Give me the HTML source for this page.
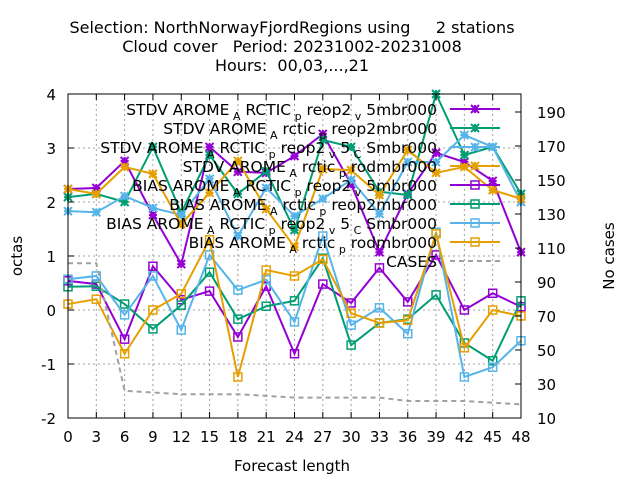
<!DOCTYPE html>
<html><head><meta charset="utf-8"><style>
body{margin:0;background:#fff}
svg{display:block;font-family:"DejaVu Sans","Liberation Sans",sans-serif}
text{white-space:pre}
</style></head><body>
<svg id="c" width="640" height="480" viewBox="0 0 640 480">
<g id="grid"></g>
<g id="series"></g>
<g id="axes"></g>
<g id="legend"></g>
<g font-size="16" text-anchor="middle" fill="#000">
<text x="292" y="33" xml:space="preserve">Selection: NorthNorwayFjordRegions using     2 stations</text>
<text x="292" y="52" xml:space="preserve">Cloud cover   Period: 20231002-20231008</text>
<text x="292" y="71" xml:space="preserve">Hours:  00,03,...,21</text>
</g>
<text x="292" y="471" font-size="15" text-anchor="middle">Forecast length</text>
<text transform="translate(22,256) rotate(-90)" font-size="15" text-anchor="middle">octas</text>
<text transform="translate(614,256) rotate(-90)" font-size="15" text-anchor="middle">No cases</text>
</svg>
<script>
const hours=[0,3,6,9,12,15,18,21,24,27,30,33,36,39,42,45,48];
const stdvArcticV5=[2.24,2.26,2.76,1.76,0.85,3.02,2.56,2.54,2.85,3.26,2.33,1.07,2.15,2.91,2.74,2.39,1.07];
const stdvArcticMbr=[2.09,2.15,2.0,3.02,1.8,2.87,2.15,2.57,1.48,3.15,3.02,2.19,2.13,4.0,2.87,3.02,2.15];
const stdvArcticV5C=[1.83,1.81,2.11,1.89,1.76,2.43,1.37,2.26,1.74,2.06,2.41,1.78,2.74,2.74,3.24,3.02,2.0];
const stdvArcticRod=[2.24,2.15,2.65,2.52,1.59,2.17,2.76,1.87,1.17,2.61,2.59,2.13,2.96,2.54,2.65,2.22,2.06];
const biasArcticV5=[0.54,0.48,-0.54,0.81,0.19,0.35,-0.5,0.44,-0.81,0.48,0.13,0.78,0.15,1.02,0.0,0.31,0.06];
const biasArcticMbr=[0.43,0.44,0.11,-0.35,0.09,0.7,-0.17,0.07,0.17,0.96,-0.65,-0.24,-0.17,0.28,-0.61,-0.94,0.17];
const biasArcticV5C=[0.57,0.63,-0.09,0.63,-0.37,1.02,0.37,0.56,-0.22,1.37,-0.28,0.04,-0.44,1.44,-1.24,-1.06,-0.57];
const biasArcticRod=[0.11,0.2,-0.81,0.0,0.3,1.3,-1.24,0.74,0.63,0.94,-0.06,-0.24,-0.19,1.41,-0.7,0.0,-0.11];
const cases=[101,101,26,25,24,24,24,23,22,22,22,22,20,20,20,19,18];
const yTicks=[-2,-1,0,1,2,3,4];
const y2Ticks=[10,30,50,70,90,110,130,150,170,190];
const xTicks=[0,3,6,9,12,15,18,21,24,27,30,33,36,39,42,45,48];

const L=68,R=521,T=94,B=418;
const X=h=>L+(h-0)/(48-0)*(R-L);
const Y=v=>B-(v+2)/6*(B-T);
const Y2=c=>B-(c-10)*1.7;
const NS="http://www.w3.org/2000/svg";
function mk(tag,attrs,parent){const e=document.createElementNS(NS,tag);for(const k in attrs)e.setAttribute(k,attrs[k]);parent.appendChild(e);return e;}
const grid=document.getElementById('grid'),axes=document.getElementById('axes'),ser=document.getElementById('series'),leg=document.getElementById('legend');

xTicks.forEach(h=>{
  if(h>0&&h<48){const g=mk('line',{x1:X(h),x2:X(h),y1:T,y2:B,stroke:'#a0a0a0','stroke-dasharray':'2,3','stroke-width':1},grid);
  
  }
  const t=mk('text',{x:X(h),y:B+24,'font-size':15,'text-anchor':'middle'},axes);t.textContent=h;
  
  
  mk('line',{x1:X(h),x2:X(h),y1:B,y2:B-6,stroke:'#000'},axes);
  mk('line',{x1:X(h),x2:X(h),y1:T,y2:T+6,stroke:'#000'},axes);
});
yTicks.forEach(v=>{
  if(v>-2&&v<4){const g=mk('line',{x1:L,x2:R,y1:Y(v),y2:Y(v),stroke:'#a0a0a0','stroke-dasharray':'2,3','stroke-width':1},grid);
  
  }
  const t=mk('text',{x:56,y:Y(v)+6,'font-size':15,'text-anchor':'end'},axes);t.textContent=v;
  
  
  mk('line',{x1:L,x2:L+6,y1:Y(v),y2:Y(v),stroke:'#000'},axes);
});
y2Ticks.forEach(c=>{
  const t=mk('text',{x:537,y:Y2(c)+6,'font-size':15,'text-anchor':'start'},axes);t.textContent=c;
  
  
  mk('line',{x1:R-6,x2:R,y1:Y2(c),y2:Y2(c),stroke:'#000'},axes);
});
const frame=mk('rect',{x:L,y:T,width:R-L,height:B-T,fill:'none',stroke:'#000','stroke-width':1},axes);



function star(cx,cy,col,p){const s=4;
  mk('path',{d:`M${cx-s},${cy}H${cx+s}M${cx},${cy-s}V${cy+s}M${cx-s},${cy-s}L${cx+s},${cy+s}M${cx-s},${cy+s}L${cx+s},${cy-s}`,stroke:col,'stroke-width':2,fill:'none'},p);}
function box(cx,cy,col,p){mk('rect',{x:cx-4,y:cy-4,width:8,height:8,stroke:col,'stroke-width':1.5,fill:'none'},p);}

const series=[
 {d:stdvArcticV5,c:'#9400d3',m:star,name:'stdv-arctic-v5',lab:['STDV AROME','A','RCTIC','p','reop2','v','5mbr000']},
 {d:stdvArcticMbr,c:'#009e73',m:star,name:'stdv-arctic-mbr',lab:['STDV AROME','A','rctic','p','reop2mbr000']},
 {d:stdvArcticV5C,c:'#56b4e9',m:star,name:'stdv-arctic-v5c',lab:['STDV AROME','A','RCTIC','p','reop2','v','5','C','Smbr000']},
 {d:stdvArcticRod,c:'#e69f00',m:star,name:'stdv-arctic-rod',lab:['STDV AROME','A','rctic','p','rodmbr000']},
 {d:biasArcticV5,c:'#9400d3',m:box,name:'bias-arctic-v5',lab:['BIAS AROME','A','RCTIC','p','reop2','v','5mbr000']},
 {d:biasArcticMbr,c:'#009e73',m:box,name:'bias-arctic-mbr',lab:['BIAS AROME','A','rctic','p','reop2mbr000']},
 {d:biasArcticV5C,c:'#56b4e9',m:box,name:'bias-arctic-v5c',lab:['BIAS AROME','A','RCTIC','p','reop2','v','5','C','Smbr000']},
 {d:biasArcticRod,c:'#e69f00',m:box,name:'bias-arctic-rod',lab:['BIAS AROME','A','rctic','p','rodmbr000']}
];
const rowY=i=>109+i*19;
series.forEach((s,i)=>{
  const g=mk('g',{},ser);
  
  
  mk('polyline',{points:s.d.map((v,j)=>X(hours[j])+','+Y(v)).join(' '),fill:'none',stroke:s.c,'stroke-width':2},g);
  s.d.forEach((v,j)=>s.m(X(hours[j]),Y(v),s.c,g));
  const lg=mk('g',{},leg);
  
  
  const t=mk('text',{x:437,y:rowY(i)+6,'font-size':15.5,'text-anchor':'end','xml:space':'preserve'},lg);
  s.lab.forEach((p,k)=>{const ts=mk('tspan',{},t);
    if(k%2==1){ts.textContent=' '+p;ts.setAttribute('font-size','11');ts.setAttribute('dy','5');}
    else if(k>0){ts.textContent=' '+p;ts.setAttribute('dy','-5');}
    else ts.textContent=p;});
  mk('line',{x1:450,x2:500,y1:rowY(i),y2:rowY(i),stroke:s.c,'stroke-width':2},lg);
  s.m(475,rowY(i),s.c,lg);
});
const cg=mk('g',{},ser);


mk('polyline',{points:cases.map((c,j)=>X(hours[j])+','+Y2(c)).join(' '),fill:'none',stroke:'#a0a0a0','stroke-width':2,'stroke-dasharray':'5,4'},cg);
const cl=mk('g',{},leg);


const ct=mk('text',{x:437,y:rowY(8)+6,'font-size':15.5,'text-anchor':'end'},cl);ct.textContent='CASES';
mk('line',{x1:450,x2:500,y1:rowY(8),y2:rowY(8),stroke:'#a0a0a0','stroke-width':2,'stroke-dasharray':'5,4'},cl);
</script>
</body></html>
